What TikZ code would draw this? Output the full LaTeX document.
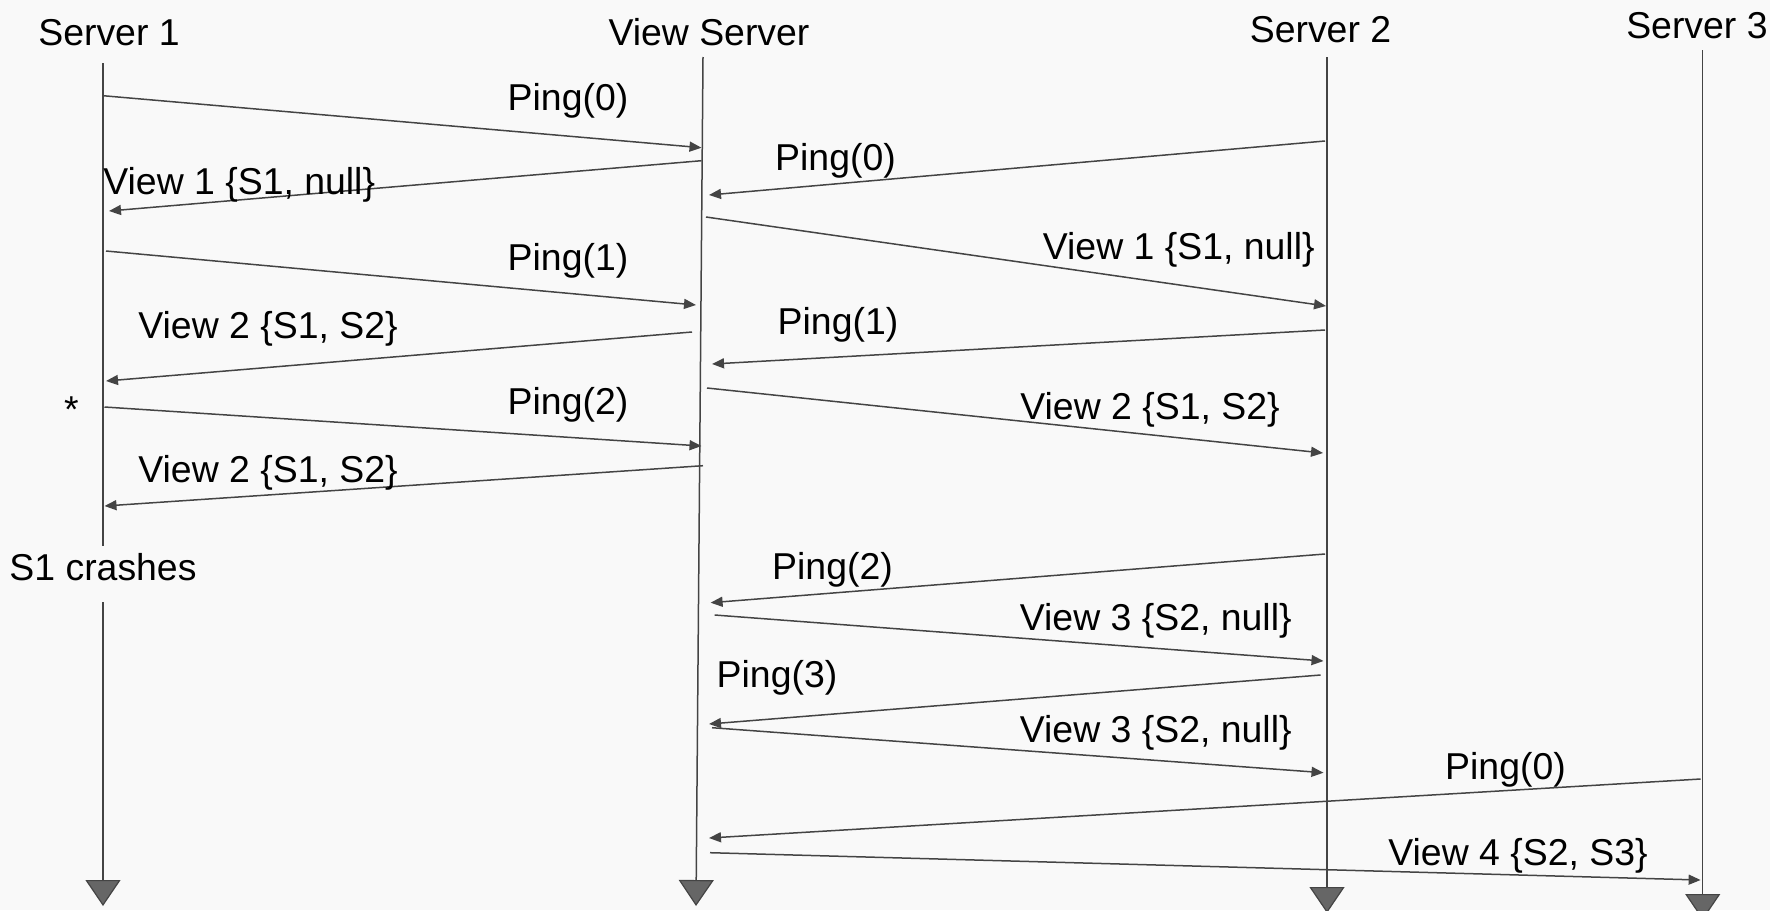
\documentclass[tikz,border=0pt]{standalone}
\usepackage{fontspec}
\setmainfont{Liberation Sans}
\usetikzlibrary{arrows.meta}
\definecolor{bg}{RGB}{249,249,249}
\definecolor{ln}{RGB}{68,68,68}
\definecolor{tri}{RGB}{102,102,102}
\begin{document}
\begin{tikzpicture}[x=0.5pt,y=-0.5pt,
  lbl/.style={font=\fontsize{18.7}{22}\selectfont, inner sep=0pt, text=black, yshift=-1.25pt},
  lifeline/.style={draw=ln, line width=0.75pt},
  lifeend/.style={draw=ln, line width=0.75pt, -{Triangle[length=13pt,width=17.5pt,fill=tri,color=ln,line width=0.6pt]}},
  msg/.style={draw=ln, line width=0.75pt, -{Triangle[length=6pt,width=5pt]}}]
\fill[bg] (0,0) rectangle (1770,910);
\useasboundingbox (0,0) rectangle (1770,910);

% headers
\node[lbl, anchor=base] (h1) at (109,43) {Server 1};
\node[lbl, anchor=base] (hv) at (709,43) {View Server};
\node[lbl, anchor=base] (h2) at (1320.5,40) {Server 2};
\node[lbl, anchor=base east] (h3) at (1768,36) {Server 3};

% lifelines
\coordinate (s1t) at (103,63);
\coordinate (s1g1) at (103,546);
\coordinate (s1g2) at (103,602);
\coordinate (s1b) at (103,906);
\node[lbl, anchor=base] (crash) at (103,578) {S1 crashes};
\draw[lifeline] (s1t) -- (s1g1);
\draw[lifeend] (s1g2) -- (s1b);

\coordinate (vst) at (703,57);
\coordinate (vsb) at (696,906);
\draw[lifeend] (vst) -- (vsb);

\coordinate (s2t) at (1327,57);
\coordinate (s2b) at (1327,913);
\draw[lifeend] (s2t) -- (s2b);

\coordinate (s3t) at (1702.7,50);
\coordinate (s3b) at (1702.7,920);
\draw[lifeend] (s3t) -- (s3b);

% message endpoints
\coordinate (a1) at (103,95.7);   \coordinate (b1) at (701.5,147.7);
\coordinate (a2) at (701.5,160.7);\coordinate (b2) at (109,211);
\coordinate (a3) at (1325,141);   \coordinate (b3) at (709,195);
\coordinate (a4) at (706,217);    \coordinate (b4) at (1326,306);
\coordinate (a5) at (106,251);    \coordinate (b5) at (696,305);
\coordinate (a6) at (1325,330);   \coordinate (b6) at (712,364);
\coordinate (a7) at (692,332);    \coordinate (b7) at (106,381);
\coordinate (a8) at (707,388);    \coordinate (b8) at (1323,453);
\coordinate (a9) at (104.5,407);  \coordinate (b9) at (701.5,446);
\coordinate (a10) at (703,465.7); \coordinate (b10) at (104.5,506);
\coordinate (a12) at (1325,554);  \coordinate (b12) at (710.6,602.7);
\coordinate (a13) at (714.6,615); \coordinate (b13) at (1323.5,661);
\coordinate (a14) at (1320.6,675);\coordinate (b14) at (709,724);
\coordinate (a15) at (712,727.7); \coordinate (b15) at (1323.5,772.7);
\coordinate (a16) at (1700.6,779);\coordinate (b16) at (709,838);
\coordinate (a17) at (710,852.7); \coordinate (b17) at (1700.6,880);

\foreach \i in {1,2,3,4,5,6,7,8,9,10,12,13,14,15,16,17}
  \draw[msg] (a\i) -- (b\i);

% labels
\node[lbl, anchor=base] (l1) at (568,108) {Ping(0)};
\node[lbl, anchor=base west] (l2) at (103,191.7) {View 1 \{S1, null\}};
\node[lbl, anchor=base] (l3) at (835.5,168.3) {Ping(0)};
\node[lbl, anchor=base east] (l4) at (1315,256.7) {View 1 \{S1, null\}};
\node[lbl, anchor=base] (l5) at (568,268.3) {Ping(1)};
\node[lbl, anchor=base] (l6) at (838,331.7) {Ping(1)};
\node[lbl, anchor=base west] (l7) at (138,336) {View 2 \{S1, S2\}};
\node[lbl, anchor=base east] (l8) at (1280,416.7) {View 2 \{S1, S2\}};
\node[lbl, anchor=base] (l9) at (568,411.7) {Ping(2)};
\node[lbl, anchor=base] (star) at (71.5,420) {*};
\node[lbl, anchor=base west] (l10) at (138,480) {View 2 \{S1, S2\}};
\node[lbl, anchor=base] (l12) at (832.5,576.7) {Ping(2)};
\node[lbl, anchor=base east] (l13) at (1292,628.3) {View 3 \{S2, null\}};
\node[lbl, anchor=base] (l14) at (777,685) {Ping(3)};
\node[lbl, anchor=base east] (l15) at (1292,740) {View 3 \{S2, null\}};
\node[lbl, anchor=base] (l16) at (1505.5,776.7) {Ping(0)};
\node[lbl, anchor=base east] (l17) at (1648,863.3) {View 4 \{S2, S3\}};
\end{tikzpicture}
\end{document}
